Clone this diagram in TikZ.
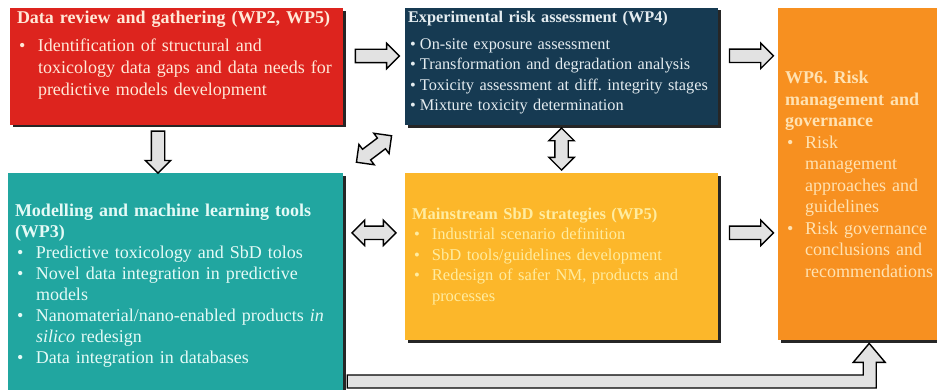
\documentclass[tikz,border=0pt]{standalone}
\usepackage{fontspec}
\setmainfont{Liberation Serif}
\usetikzlibrary{shapes.arrows,shadows,calc}

\definecolor{datared}{RGB}{221,36,30}
\definecolor{expblue}{RGB}{22,58,82}
\definecolor{modteal}{RGB}{33,166,160}
\definecolor{sbdyellow}{RGB}{252,183,42}
\definecolor{wporange}{RGB}{247,144,32}
\definecolor{redtext}{RGB}{255,232,215}
\definecolor{exptext}{RGB}{228,236,240}
\definecolor{modtext}{RGB}{228,250,246}
\definecolor{sbdtext}{RGB}{255,236,160}
\definecolor{wptext}{RGB}{255,226,178}
\definecolor{arrowgray}{RGB}{226,226,226}

\setlength{\parindent}{0pt}
\frenchspacing
\newcommand{\wpitem}[1][21pt]{\par\noindent\hangindent=#1\hangafter=1\makebox[#1][l]{\hspace{2pt}\textbullet}\ignorespaces}

\tikzset{
  wpbox/.style={rectangle, inner xsep=6pt, inner ysep=3pt, align=left,
    drop shadow={shadow xshift=2.5pt, shadow yshift=-2.5pt, fill=black!85, opacity=1}},
  fatarrow/.style={single arrow, draw=black, line width=1.4pt, fill=arrowgray, inner xsep=0pt, inner ysep=6pt,
    minimum height=44pt, single arrow head extend=6pt},
  twoway/.style={double arrow, draw=black, line width=1.4pt, fill=arrowgray, inner xsep=0pt, inner ysep=6pt,
    minimum height=44pt, double arrow head extend=6pt},
}

\begin{document}
\begin{tikzpicture}[x=1pt, y=1pt]
    \useasboundingbox (0,0) rectangle (937,389);
    \node[wpbox, fill=datared, text=redtext, minimum width=333pt, minimum height=113pt, text width=319pt,
        font=\fontsize{18}{22}\selectfont] (data) at (176.5,322.5)
        {\textbf{Data review and gathering (WP2, WP5)}\par\vspace{6pt}
        \wpitem Identification of structural and\newline toxicology data gaps and data needs for\newline predictive models development\par\vspace*{22pt}};
    \node[wpbox, fill=expblue, text=exptext, inner xsep=3pt, minimum width=313pt, minimum height=113pt, text width=307pt,
        font=\fontsize{16.3}{20.3}\selectfont] (exp) at (561.5,322.5)
        {\textbf{Experimental risk assessment (WP4)}\par\vspace{7pt}
        \wpitem[12pt] On-site exposure assessment
        \wpitem[12pt] Transformation and degradation analysis
        \wpitem[12pt] Toxicity assessment at diff. integrity stages
        \wpitem[12pt] Mixture toxicity determination\par\vspace*{8pt}};
    \node[wpbox, fill=modteal, text=modtext, minimum width=335pt, minimum height=226pt, text width=321pt,
        font=\fontsize{18}{21}\selectfont] (model) at (175.5,103)
        {\textbf{Modelling and machine learning tools}\newline\textbf{(WP3)}
        \wpitem Predictive toxicology and SbD tolos
        \wpitem Novel data integration in predictive\newline models
        \wpitem Nanomaterial/nano-enabled products \textit{in}\newline\textit{silico} redesign
        \wpitem Data integration in databases\par};
    \node[wpbox, fill=sbdyellow, text=sbdtext, minimum width=313pt, minimum height=167pt, text width=299pt,
        font=\fontsize{16.5}{20.5}\selectfont] (sbd) at (561.5,132.5)
        {\textbf{Mainstream SbD strategies (WP5)}
        \wpitem[20pt] Industrial scenario definition
        \wpitem[20pt] SbD tools/guidelines development
        \wpitem[20pt] Redesign of safer NM, products and\newline processes\par};
    \node[wpbox, fill=wporange, text=wptext, anchor=north west, inner xsep=7pt, minimum width=170pt, minimum height=332pt, text width=156pt,
        font=\fontsize{18}{21.5}\selectfont] (wp6) at (778,381)
        {\textbf{WP6. Risk}\newline\textbf{management and}\newline\textbf{governance}
        \wpitem[20pt] Risk\newline management\newline approaches and\newline guidelines
        \wpitem[20pt] Risk governance\newline conclusions and\newline recommendations\par};

    \node[fatarrow] (datatoexp) at ($(data.north east)!0.5!(exp.north west)+(0,-48)$) {};
    \node[fatarrow] (exptowp) at ($(exp.north east)!0.5!(exp.north east -| wp6.west)+(0,-48)$) {};
    \node[fatarrow] (sbdtowp) at ($(sbd.north east)!0.5!(sbd.north east -| wp6.west)+(0,-60)$) {};
    \node[twoway] (modsbd) at ($(sbd.north west)!0.5!(sbd.north west -| model.east)+(0,-60)$) {};
    \node[fatarrow, rotate=-90, minimum height=42pt] (datatomod) at ($(data.south)!0.5!(model.north)+(-18,0)$) {};
    \node[twoway, rotate=90, minimum height=42pt] (expsbd) at ($(exp.south)!0.5!(sbd.north)$) {};
    \node[twoway, rotate=37] (modexp) at ($(model.north east)!0.5!(exp.south west)$) {};

    \coordinate (tip) at ($(wp6.south)+(6,-3)$);
    \coordinate (tail) at ($(model.east |- 0,1)+(4,0)$);
    \draw[draw=black, line width=1.4pt, fill=arrowgray] (tail) -- ++(0,13) -| ($(tip)+(-6,-19)$) -- ++(-10,0) -- (tip)
        -- ++(16,-19) -- ++(-9,0) |- (tail) -- cycle;
\end{tikzpicture}
\end{document}
